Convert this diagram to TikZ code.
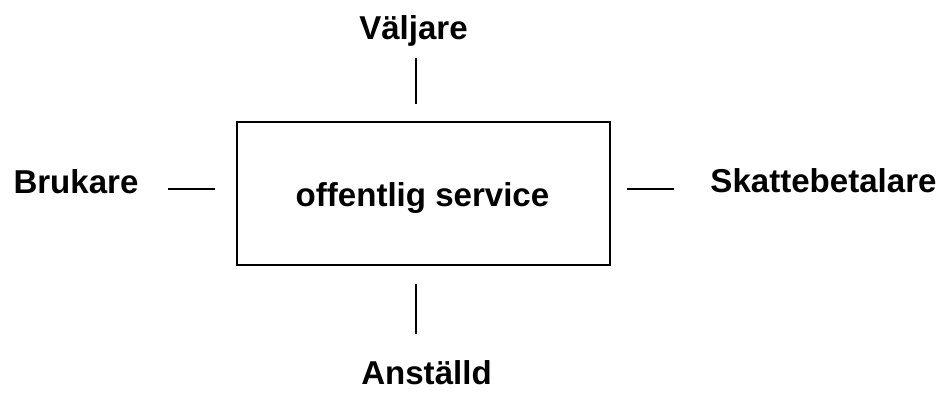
\documentclass[tikz,border=0pt]{standalone}
\usepackage{fontspec}
\setmainfont{Liberation Sans}
\begin{document}
\begin{tikzpicture}[x=0.75pt,y=-0.75pt,
  lbl/.style={font=\bfseries\fontsize{24.8pt}{28pt}\selectfont, inner sep=0pt, anchor=base},
  conn/.style={line width=1.3pt},
  boxstyle/.style={draw, line width=1.3pt, minimum width=373*0.75pt, minimum height=143*0.75pt, inner sep=0pt}]
\useasboundingbox (0,0) rectangle (946,394);
\node[boxstyle] (box) at (423.5,193.5) {};
\node[lbl] (serv) at (422.5,206.5) {offentlig service};
\node[lbl] (valj) at (413.5,39) {Väljare};
\node[lbl] (anst) at (426.5,384) {Anställd};
\node[lbl] (bruk) at (76,193) {Brukare};
\node[lbl] (skat) at (823.5,192) {Skattebetalare};
\coordinate (t1) at (416,58);
\coordinate (t2) at (416,104);
\coordinate (b1) at (416,284);
\coordinate (b2) at (416,334);
\coordinate (l1) at (168,189);
\coordinate (l2) at (215,189);
\coordinate (r1) at (627,189);
\coordinate (r2) at (674,189);
\draw[conn] (t1) -- (t2);
\draw[conn] (b1) -- (b2);
\draw[conn] (l1) -- (l2);
\draw[conn] (r1) -- (r2);
\end{tikzpicture}
\end{document}
